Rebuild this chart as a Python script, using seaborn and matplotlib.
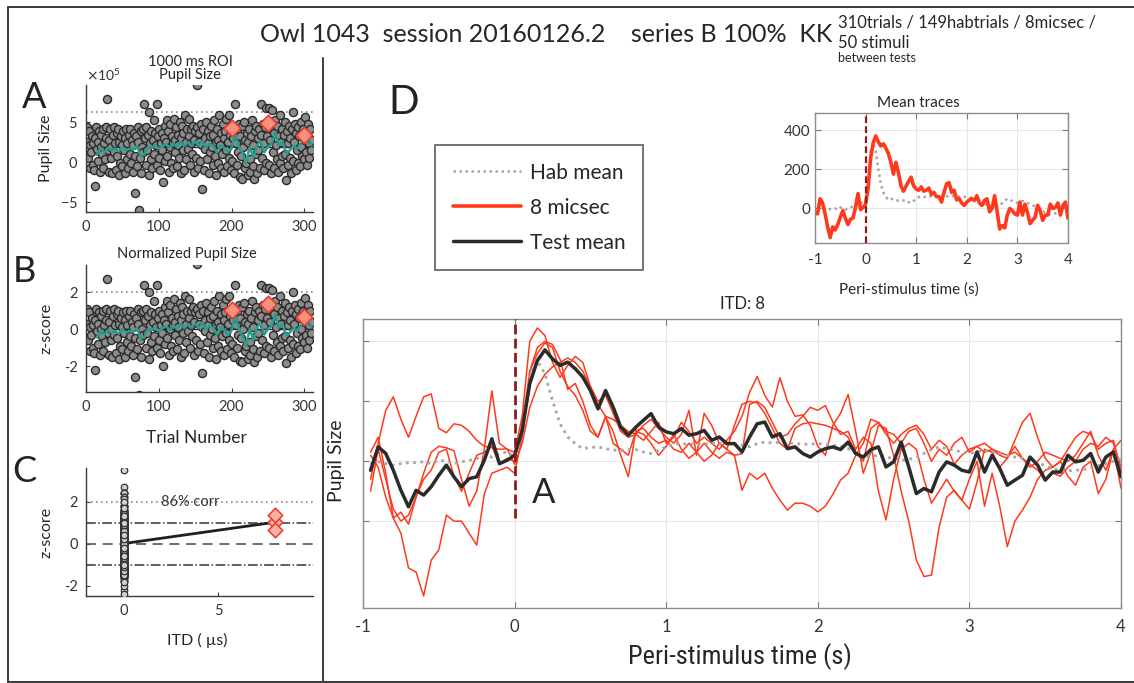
import numpy as np
import matplotlib
matplotlib.use("Agg")
import matplotlib.pyplot as plt
import seaborn as sns
from matplotlib.lines import Line2D
from matplotlib import font_manager

# ---------------------------------------------------------------- data
# normalized (z-scored) 1000 ms ROI pupil response per trial, trials 1..310
TRIAL_Z = [
    1.1, 0.3, -0.6, 0.9, -1.2, 0.1, -0.3, 0.6, -1.0, 0.2,
    -1.3, -2.2, 0.5, 1.1, -0.1, -0.8, 0.3, 0.9, -1.4, 0.0,
    0.7, -0.4, 1.0, -1.2, 0.2, -0.7, 0.5, 1.1, 2.7, -0.2,
    -1.4, 0.4, 1.0, -0.6, 0.0, -1.5, 0.7, 1.1, -0.3, 0.2,
    -1.3, 0.8, -0.5, 1.0, -1.6, 0.3, -0.9, 0.6, 0.1, -1.1,
    0.9, -0.2, 0.5, -1.5, 1.0, -0.7, 0.2, -1.2, 0.7, -0.4,
    1.0, -0.9, 0.4, -1.4, 0.1, 0.8, -0.5, -2.6, 0.6, -1.1,
    0.3, 1.1, -3.55, -0.6, 0.9, -1.5, 0.0, 1.0, -0.3, 2.4,
    0.5, -1.0, 1.1, -0.2, 0.7, -1.6, 2.0, 0.2, -0.7, 0.9,
    -1.2, 0.4, 1.5, -0.4, 0.8, 0.1, -1.0, 2.4, 0.6, -0.6,
    1.0, -1.3, 0.2, 0.8, -0.2, -2.0, 0.5, 1.2, -0.8, 0.3,
    1.5, -0.5, 0.9, -1.4, 0.0, 1.3, -0.9, 0.6, 0.2, -1.2,
    1.6, 0.4, -0.3, 1.1, -1.1, 0.7, 0.1, -0.6, 1.4, -1.5,
    0.5, 1.2, -0.2, 0.8, -1.3, 1.8, 0.3, -0.7, 1.0, -0.1,
    0.6, 1.6, -1.0, 0.2, 1.0, -0.4, 1.2, -1.4, 0.4, 0.9,
    -0.6, 3.5, 1.1, -1.2, 0.3, 0.8, -0.8, 1.3, -2.4, 0.1,
    1.0, -1.3, 0.5, -0.1, 1.4, -0.7, 0.2, 0.9, -1.5, 0.6,
    -0.3, 1.2, 0.0, -1.0, 0.7, 1.5, -0.5, 0.3, -1.6, 1.0,
    0.4, -0.9, 1.8, 0.1, -1.2, 0.8, -0.4, 1.3, 0.5, -1.4,
    0.9, -0.2, 1.6, -1.1, 0.3, 1.8, -0.6, 0.7, -1.3, 1.05,
    -0.8, 0.5, 1.1, -1.5, 2.4, 0.2, -1.0, 0.9, -0.3, 1.3,
    -1.7, 0.6, -0.5, 1.2, -1.8, 0.0, 1.4, -1.2, 0.4, -0.9,
    0.8, -1.6, 0.3, 1.0, -0.7, -1.4, 0.6, 1.5, -1.1, 0.1,
    -1.8, 0.9, -0.4, 1.2, -1.5, 0.5, -0.2, 1.0, -1.2, 0.7,
    2.4, -0.6, 1.3, -1.3, 0.2, 1.1, 2.2, -0.9, 0.6, 1.35,
    -1.0, 2.2, 0.4, -1.5, 1.0, 2.1, -0.3, 0.8, -1.2, 1.5,
    0.1, -0.7, 1.2, -1.4, 0.6, 1.8, -0.9, 0.3, -0.5, 1.0,
    -1.2, 0.7, 1.4, -0.4, -1.85, 0.9, 0.2, -1.0, 1.2, -0.6,
    0.5, -1.5, 1.0, 2.0, -0.8, 0.3, 1.3, -1.3, 0.8, -0.2,
    1.1, -0.9, 0.6, -1.1, 1.4, 0.0, -0.5, 1.0, -0.7, 0.65,
    1.7, -0.3, 0.9, -1.0, 1.3, 0.2, -0.6, 1.0, -0.2, 0.4,
]
TEST_TRIALS = [200, 250, 300]

# running average of the habituation response
RUN_TRIALS = list(range(15, 311, 5))
RUN_Z = [
    -0.45, -0.1, -0.3, -0.05, -0.2, -0.1, -0.25, 0.0, -0.2, -0.1,
    -0.15, 0.05, -0.5, -0.45, 0.0, -0.05, 0.1, -0.1, 0.05, 0.15,
    -0.05, 0.2, 0.0, 0.3, 0.05, 0.25, 0.1, 0.3, 0.05, 0.35,
    -0.05, 0.2, 0.05, -0.3, 0.1, -0.05, -0.3, -0.1, 0.75, 0.0,
    -0.35, -0.9, 0.0, -0.6, 0.1, 0.3, -0.3, 0.0, 0.15, 0.8,
    0.1, 0.3, -0.35, -0.2, 0.05, -0.1, 0.2, 0.55, 0.5, 0.1,
]

# habituation statistics of raw pupil size (arbitrary units)
HAB_MEAN_PUPIL = 1.9e5
HAB_SD_PUPIL = 2.2e5
HAB_Z_MEAN = 0.0
ITD_TEST = 8
CORR_LABEL = "86% corr"
STIM_ONSET = 0.0

# peri-stimulus traces, sampled every 50 ms from -0.95 s to 4.0 s
TIME = np.round(np.arange(-0.95, 4.0001, 0.05), 2)
TEST_MEAN = [
    -30, 48, 26, -30, -97, -152, -97, -113, -85, -47,
    -13, -52, -85, -58, -52, 3, 75, -8, 3, 20,
    103, 259, 336, 372, 342, 320, 331, 309, 281, 236,
    175, 236, 181, 114, 87, 114, 137, 159, 114, 98,
    92, 109, 87, 92, 103, 70, 81, 59, 59, 31,
    81, 125, 131, 81, 92, 42, 48, 26, 14, 31,
    42, 48, 39, 64, 26, 14, 39, 48, -19, -2,
    64, -19, -108, -91, -102, -36, -2, -13, -30, -36,
    31, -36, 20, -24, -80, -63, -47, 14, -13, -63,
    -36, -36, 20, -2, 3, 26, -36, 14, 31, -52,
]
HAB_TRACE = [
    -8, -2, -8, -13, -8, -5, -4, -2, -8, 3,
    1, -8, -2, 3, 9, 20, 14, 25, 31, 14,
    92, 292, 335, 292, 203, 125, 81, 59, 42, 46,
    48, 42, 37, 37, 39, 39, 31, 26, 37, 48,
    57, 59, 57, 59, 57, 61, 59, 59, 59, 53,
    48, 59, 64, 61, 64, 61, 59, 57, 57, 59,
    57, 53, 50, 42, 26, 14, 17, 20, 14, 9,
    3, 6, 14, 26, 39, 48, 42, 37, 31, 26,
    31, 37, 31, 26, 20, 14, 9, 3, -5, -15,
    -25, -30, -32, -30, -28, -22, -15, -8, 0, 9,
]
TRACE_1 = [
    -60, 60, 170, 215, 140, 80, 150, 215, 225, 110,
    95, 125, 120, 100, 70, 50, 45, 40, 42, -10,
    60, 180, 250, 290, 315, 330, 345, 330, 300, 250,
    190, 150, 140, 120, 100, 90, 120, 140, 110, 80,
    60, 90, 170, 20, 160, 120, 60, 40, 120, 190,
    200, 195, 160, 110, 60, 40, 110, 125, 130, 125,
    120, 110, 100, 80, 30, 0, 110, 130, 90, 60,
    90, 110, 120, 90, 40, 70, 50, -10, 20, 40,
    50, 30, 40, 20, 10, 70, 130, 160, 80, 10,
    -20, 0, 40, 80, 100, 90, 40, 60, 70, -30,
]
TRACE_2 = [
    -100, 40, -60, -160, -200, -180, -120, -40, 30, 50,
    45, 35, -60, -150, -100, 40, 235, 60, 40, 30,
    150, 400, 445, 420, 330, 280, 320, 350, 330, 250,
    200, 220, 160, 100, 80, 90, 70, 100, 130, 60,
    80, 130, 100, 60, 80, 60, 40, 70, 100, 150,
    230, 283, 220, 181, 279, 200, 150, 155, 120, 50,
    20, 120, 160, 223, 100, -40, 30, 120, 110, 20,
    -100, -200, -330, -385, -380, -220, -120, -97, -130, -160,
    -70, 40, 30, -20, 10, 50, 10, -20, 0, 30,
    20, 10, 0, 20, 60, 100, 20, -30, 40, 70,
]
TRACE_3 = [
    20, -20, -120, -190, -240, -356, -370, -450, -330, -296,
    -180, -200, -200, -240, -280, -110, -40, -30, -20, -40,
    80, 300, 380, 400, 390, 340, 240, 260, 200, 120,
    80, 150, 60, 40, 20, 100, 90, 60, 20, 50,
    90, 40, 10, 30, 60, 30, 10, 30, 20, -97,
    -40, -60, -40, -90, -130, -163, -140, -140, -150, -169,
    -150, -110, -63, -40, 20, 60, 140, 130, 100, 90,
    60, 100, 110, 60, 0, 40, 20, 60, 80, 30,
    50, 60, 40, 30, 20, 30, 10, -10, -30, -60,
    -40, -50, -20, 0, 40, 60, 50, 80, 60, -20,
]
TRACE_4 = [
    30, 80, -40, -190, -170, -210, -120, -60, -30, 30,
    40, -50, -100, -40, 20, 30, 50, -10, 10, 0,
    120, 300, 360, 395, 380, 300, 250, 220, 170, 100,
    81, 148, 100, 20, -52, 103, 110, 80, 60, 70,
    40, 30, 60, 30, 0, 20, 60, 40, 20, 25,
    190, 200, 180, 130, 80, 90, 125, 150, 180, 170,
    186, 130, 90, 100, 40, 80, 60, -100, -196, -60,
    40, 60, 40, -60, -140, -100, -60, -100, -130, -60,
    0, -150, -40, -150, -285, -200, -163, -120, -60, -30,
    -20, 0, -50, -80, -20, 0, -108, -60, 40, -90,
]
TEST_TRACES = [TRACE_1, TRACE_2, TRACE_3, TRACE_4]

# ---------------------------------------------------------------- style
sns.set_theme(style="white")
plt.rcParams["font.family"] = ["Lato", "DejaVu Sans"]
plt.rcParams["axes.unicode_minus"] = False
plt.rcParams["text.color"] = "#262626"
plt.rcParams["axes.labelcolor"] = "#262626"
plt.rcParams["lines.solid_joinstyle"] = "round"


def pick_narrow_font():
    """Find a condensed sans face for the large time-axis label."""
    fonts = font_manager.fontManager.ttflist
    names = {f.name for f in fonts}
    for fam in ("Liberation Sans Narrow", "Roboto Condensed",
                "Open Sans Condensed", "Noto Sans Condensed",
                "DejaVu Sans Condensed", "Lato Condensed"):
        if fam in names:
            return dict(family=fam, fontsize=19)
    for f in fonts:
        st = str(f.stretch).lower()
        if ("condensed" in st or "narrow" in st or "condensed" in f.fname.lower()) \
                and "cjk" not in f.name.lower() and "mono" not in f.name.lower():
            return dict(family=f.name, stretch="condensed", fontsize=19)
    return dict(family="Lato", fontsize=17)


NARROW = pick_narrow_font()

RED = "#ff3a1c"
DARK = "#2b2b2b"
GREY_DOT = "#a6a6a6"
TEAL = "#2a9d90"
DIAMOND_FACE = "#f8907f"
DIAMOND_EDGE = "#ee3b2b"
ONSET = "#8b1c1c"

W, H = 1134, 683
fig = plt.figure(figsize=(W / 100, H / 100), dpi=100)


def rect(x0, y0, x1, y1):
    return [x0 / W, 1 - y1 / H, (x1 - x0) / W, (y1 - y0) / H]


def style_open(ax):
    for s in ("top", "right"):
        ax.spines[s].set_visible(False)
    for s in ("left", "bottom"):
        ax.spines[s].set_color("#3a3a3a")
        ax.spines[s].set_linewidth(1.0)
    ax.tick_params(direction="in", length=3, width=0.8, color="#3a3a3a",
                   labelsize=10.5, labelcolor="#333333", pad=6,
                   left=True, bottom=True)


def style_box(ax, labelsize):
    for s in ax.spines.values():
        s.set_color("#8c8c8c")
        s.set_linewidth(1.0)
    ax.tick_params(direction="in", length=4, width=0.8, color="#7a7a7a",
                   labelsize=labelsize, labelcolor="#333333",
                   left=True, bottom=True, top=True, right=True)
    ax.grid(True, color="#e6e6e6", lw=0.8)
    ax.set_axisbelow(True)


trials = np.arange(1, len(TRIAL_Z) + 1)
z = np.array(TRIAL_Z)
test_idx = np.array(TEST_TRIALS) - 1
test_z = z[test_idx]
hab_mask = np.ones(len(z), bool)
hab_mask[test_idx] = False
pupil = HAB_MEAN_PUPIL + HAB_SD_PUPIL * z
run_pupil = HAB_MEAN_PUPIL + HAB_SD_PUPIL * np.array(RUN_Z)
test_pupil = pupil[test_idx]

SCATTER_KW = dict(s=34, color="#8c8c8c", edgecolor="#2a2a2a", linewidth=1.0,
                  legend=False, zorder=2)
DIAMOND_KW = dict(marker="D", s=70, color=DIAMOND_FACE, edgecolor=DIAMOND_EDGE,
                  linewidth=1.2, legend=False, zorder=4)
REF_LINES = [("-", DARK, 1.0), ((0, (4, 3)), "#3a3a3a", 1.0),
             ((0, (1, 2)), "#8a8a8a", 1.2)]

# ---------------------------------------------------------------- panel A
axA = fig.add_axes(rect(86, 85, 313, 212))
for k, (ls, col, lw) in enumerate(REF_LINES):
    axA.axhline(HAB_MEAN_PUPIL + k * HAB_SD_PUPIL, ls=ls, color=col, lw=lw, zorder=1)
sns.scatterplot(x=trials, y=pupil, ax=axA, **SCATTER_KW)
sns.lineplot(x=RUN_TRIALS, y=run_pupil, ax=axA, color=TEAL, lw=1.8,
             errorbar=None, zorder=3)
sns.scatterplot(x=TEST_TRIALS, y=test_pupil, ax=axA, **DIAMOND_KW)
axA.set_xlim(0, 312)
axA.set_ylim(-6.2e5, 9.6e5)
axA.set_xticks([0, 100, 200, 300])
axA.set_yticks([-5e5, 0, 5e5])
axA.ticklabel_format(axis="y", style="sci", scilimits=(0, 0), useMathText=True)
style_open(axA)
axA.yaxis.get_offset_text().set_fontsize(10)
axA.yaxis.get_offset_text().set_color("#333333")
axA.set_xlabel("")
axA.set_ylabel("Pupil Size", fontsize=11.5)
axA.yaxis.set_label_coords(-0.145, 0.5)
axA.text(0.46, 1.18, "1000 ms ROI", transform=axA.transAxes, ha="center",
         va="center", fontsize=10.5)
axA.text(0.46, 1.08, "Pupil Size", transform=axA.transAxes, ha="center",
         va="center", fontsize=10.5)

# ---------------------------------------------------------------- panel B
axB = fig.add_axes(rect(86, 265, 313, 392))
for k, (ls, col, lw) in enumerate(REF_LINES):
    axB.axhline(HAB_Z_MEAN + k, ls=ls, color=col, lw=lw, zorder=1)
sns.scatterplot(x=trials, y=z, ax=axB, **SCATTER_KW)
sns.lineplot(x=RUN_TRIALS, y=RUN_Z, ax=axB, color=TEAL, lw=1.8,
             errorbar=None, zorder=3)
sns.scatterplot(x=TEST_TRIALS, y=test_z, ax=axB, **DIAMOND_KW)
axB.set_xlim(0, 312)
axB.set_ylim(-3.4, 3.46)
axB.set_xticks([0, 100, 200, 300])
axB.set_yticks([-2, 0, 2])
style_open(axB)
axB.set_xlabel("Trial Number", fontsize=12.5)
axB.xaxis.set_label_coords(0.485, -0.30)
axB.set_ylabel("z-score", fontsize=11.5)
axB.yaxis.set_label_coords(-0.145, 0.5)
axB.text(0.445, 1.09, "Normalized Pupil Size", transform=axB.transAxes,
         ha="center", va="center", fontsize=10.5)

# ---------------------------------------------------------------- panel C
axC = fig.add_axes(rect(86, 468, 313, 596))
axC.axhline(2, ls=(0, (1, 2)), color="#8a8a8a", lw=1.2, zorder=1)
axC.axhline(1, ls="-.", color="#333333", lw=1.1, zorder=1)
axC.axhline(-1, ls="-.", color="#333333", lw=1.1, zorder=1)
axC.axhline(HAB_Z_MEAN, ls=(0, (6, 4)), color="#555555", lw=1.2, zorder=1)
sns.scatterplot(x=np.zeros(hab_mask.sum()), y=z[hab_mask], ax=axC, s=22,
                color="#d0d0d0", edgecolor="#333333", linewidth=0.9,
                legend=False, zorder=3)
sns.lineplot(x=[0, ITD_TEST], y=[HAB_Z_MEAN, test_z.mean()], ax=axC,
             color="#1f1f1f", lw=2.0, errorbar=None, zorder=2)
sns.scatterplot(x=[ITD_TEST] * len(test_z), y=test_z, ax=axC, marker="D",
                s=55, color="#fbb0a6", edgecolor=DIAMOND_EDGE, linewidth=1.1,
                legend=False, zorder=4)
axC.text(3.5, 2, CORR_LABEL, ha="center", va="center", fontsize=10.5,
         color="#333333", zorder=5)
axC.set_xlim(-2, 10)
axC.set_ylim(-2.5, 3.6)
axC.set_xticks([0, 5])
axC.set_yticks([-2, 0, 2])
style_open(axC)
axC.set_xlabel("ITD ( \u00b5s)", fontsize=11.5)
axC.xaxis.set_label_coords(0.49, -0.29)
axC.set_ylabel("z-score", fontsize=11.5)
axC.yaxis.set_label_coords(-0.145, 0.5)

# ---------------------------------------------------------------- panel D
axD = fig.add_axes(rect(363, 319, 1121, 608))
style_box(axD, 12)
for tr in TEST_TRACES:
    sns.lineplot(x=TIME, y=tr, ax=axD, color=RED, lw=1.1, errorbar=None,
                 zorder=2)
sns.lineplot(x=TIME, y=HAB_TRACE, ax=axD, color=GREY_DOT, lw=2.0,
             linestyle=(0, (1, 1.6)), errorbar=None, zorder=3)
black_line = sns.lineplot(x=TIME, y=TEST_MEAN, ax=axD, color=DARK, lw=2.5,
                          errorbar=None, zorder=4).lines[-1]
axD.vlines(STIM_ONSET, -190, 475, colors=ONSET, linestyles=(0, (3.5, 1.6)),
           lw=2.0, zorder=5)
axD.set_xlim(-1, 4)
axD.set_ylim(-490, 475)
axD.set_xticks([-1, 0, 1, 2, 3, 4])
axD.set_yticks([-200, 0, 200, 400])
axD.set_yticklabels([])
axD.tick_params(axis="x", pad=8)
axD.set_title("ITD: 8", fontsize=12, pad=7)
axD.set_ylabel("Pupil Size", fontsize=14)
axD.yaxis.set_label_coords(-0.024, 0.51)
axD.set_xlabel("Peri-stimulus time (s)", **NARROW)
axD.xaxis.set_label_coords(0.497, -0.122)
axD.text(0.19, -107, "A", fontsize=25, ha="center", va="center",
         color="#262626", zorder=6)

# ---------------------------------------------------------------- inset
axI = fig.add_axes(rect(815, 113, 1068, 243))
style_box(axI, 11)
hab_line_inset = sns.lineplot(x=TIME, y=HAB_TRACE, ax=axI, color=GREY_DOT,
                              lw=1.8, linestyle=(0, (1, 1.4)), errorbar=None,
                              zorder=2).lines[-1]
red_line_inset = sns.lineplot(x=TIME, y=TEST_MEAN, ax=axI, color=RED,
                              lw=2.6, errorbar=None, zorder=3).lines[-1]
axI.axvline(STIM_ONSET, color=ONSET, ls=(0, (3, 1.5)), lw=1.6, zorder=4)
axI.set_xlim(-1, 4)
axI.set_ylim(-180, 490)
axI.set_xticks([-1, 0, 1, 2, 3, 4])
axI.set_yticks([0, 200, 400])
axI.tick_params(axis="x", pad=7)
axI.set_xlabel("Peri-stimulus time (s)", fontsize=11)
axI.xaxis.set_label_coords(0.37, -0.30)
axI.set_ylabel("")
axI.text(0.41, 1.08, "Mean traces", transform=axI.transAxes, ha="center",
         va="center", fontsize=11)

# ---------------------------------------------------------------- legend
leg = fig.legend([hab_line_inset, red_line_inset, black_line],
                 ["Hab mean", "8 micsec", "Test mean"],
                 loc="upper left", bbox_to_anchor=(435 / W, 1 - 145 / H),
                 frameon=True, fancybox=False, fontsize=15,
                 handlelength=3.3, handletextpad=0.4, labelspacing=0.72,
                 borderpad=0.85, borderaxespad=0)
leg.get_frame().set_edgecolor("#444444")
leg.get_frame().set_linewidth(1.3)

# ---------------------------------------------------------------- figure text
fig.text(546 / W, 1 - 34 / H,
         "Owl 1043  session 20160126.2    series B 100%  KK",
         ha="center", va="center", fontsize=18)
fig.text(838 / W, 1 - 22 / H, "310trials / 149habtrials / 8micsec /",
         ha="left", va="center", fontsize=12)
fig.text(838 / W, 1 - 43 / H, "50 stimuli", ha="left", va="center", fontsize=12)
fig.text(838 / W, 1 - 58 / H, "between tests", ha="left", va="center",
         fontsize=9)
for letter, x, y, fs in [("A", 34, 97, 26), ("B", 24, 272, 26),
                         ("C", 24, 472, 26), ("D", 404, 103, 29)]:
    fig.text(x / W, 1 - y / H, letter, ha="center", va="center", fontsize=fs,
             color="#222222")

# frame and divider
frame_kw = dict(color="#3a3a3a", lw=1.4, transform=fig.transFigure)
fig.add_artist(Line2D([8 / W, 1], [1 - 7 / H] * 2, **frame_kw))
fig.add_artist(Line2D([8 / W] * 2, [1 - 7 / H, 1 - 682 / H], **frame_kw))
fig.add_artist(Line2D([8 / W, 1], [1 - 682 / H] * 2, **frame_kw))
fig.add_artist(Line2D([323 / W] * 2, [1 - 58 / H, 1 - 682 / H], **frame_kw))

fig.savefig("out.png", dpi=100, facecolor="white")
